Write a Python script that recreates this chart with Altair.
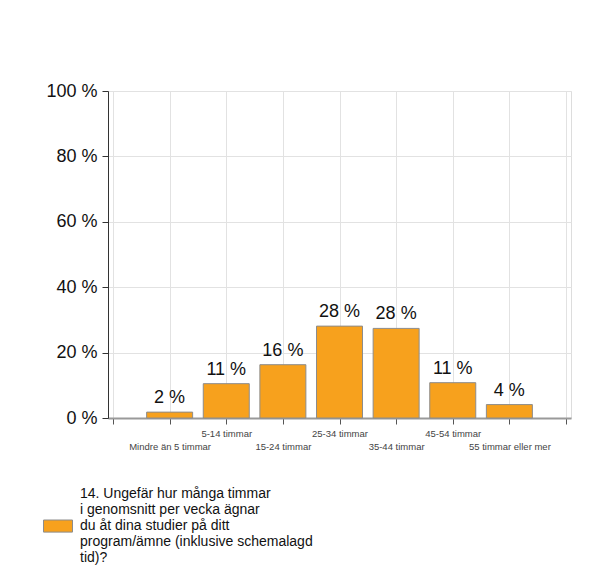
import json
import altair as alt
import pandas as pd

categories = [
    "Mindre än 5 timmar",
    "5-14 timmar",
    "15-24 timmar",
    "25-34 timmar",
    "35-44 timmar",
    "45-54 timmar",
    "55 timmar eller mer",
]
values = [1.8, 10.5, 16.3, 28.1, 27.4, 10.8, 4.1]
value_labels = ["2 %", "11 %", "16 %", "28 %", "28 %", "11 %", "4 %"]
y_ticks = [0, 20, 40, 60, 80, 100]
question_lines = [
    "14. Ungefär hur många timmar",
    "i genomsnitt per vecka ägnar",
    "du åt dina studier på ditt",
    "program/ämne (inklusive schemalagd",
    "tid)?",
]
question = "|".join(question_lines)

df = pd.DataFrame({
    "pos": list(range(1, len(categories) + 1)),
    "kategori": categories,
    "andel": values,
    "etikett": value_labels,
    "serie": [question] * len(categories),
})

FONT = "Liberation Sans"
ORANGE = "#F7A11D"
arr = json.dumps(categories)
x_label_expr = (
    f"datum.value >= 1 && datum.value <= {len(categories)} ? "
    f"(datum.value % 2 == 1 ? ['', {arr}[datum.value - 1]] : [{arr}[datum.value - 1]]) : ''"
)

x_enc = alt.X(
    "pos:Q",
    scale=alt.Scale(domain=[0, len(categories) + 1], nice=False, zero=False),
    axis=alt.Axis(
        title=None,
        values=list(range(0, len(categories) + 2)),
        labelExpr=x_label_expr,
        labelOverlap=False,
        labelFlush=False,
        labelFont=FONT,
        labelFontSize=9.5,
        labelLineHeight=13,
        labelColor="#444444",
        labelPadding=4,
        tickSize=6,
        tickColor="#555555",
        domainColor="#999999",
        domainWidth=2,
        grid=True,
        gridColor="#e2e2e2",
    ),
)

y_enc = alt.Y(
    "andel:Q",
    scale=alt.Scale(domain=[0, 100], nice=False),
    axis=alt.Axis(
        title=None,
        values=y_ticks,
        labelExpr="datum.value + ' %'",
        labelFont=FONT,
        labelFontSize=18,
        labelColor="#111111",
        labelPadding=5,
        tickSize=6,
        tickColor="#333333",
        domainColor="#333333",
        grid=True,
        gridColor="#e2e2e2",
    ),
)

# symbol path shifted down so it sits beside the middle line of the label
bars = alt.Chart(df).mark_bar(size=46, stroke="#8c8c8c", strokeWidth=1).encode(
    x=x_enc,
    y=y_enc,
    color=alt.Color(
        "serie:N",
        scale=alt.Scale(range=[ORANGE]),
        legend=alt.Legend(
            title=None,
            orient="none",
            legendX=-63,
            legendY=390,
            padding=0,
            symbolType="M-1.2,2.15H1.2V3.15H-1.2Z",
            symbolSize=585,
            symbolStrokeColor="#8c8c8c",
            symbolStrokeWidth=1,
            symbolOpacity=1,
            labelExpr="split(datum.label, '|')",
            labelFont=FONT,
            labelFontSize=14,
            labelColor="#111111",
            labelLimit=400,
            labelOffset=9,
        ),
    ),
)

labels = alt.Chart(df).mark_text(
    baseline="bottom", dy=-5, font=FONT, fontSize=18, color="#111111"
).encode(x="pos:Q", y="andel:Q", text="etikett:N")

chart = (
    alt.layer(bars, labels)
    .properties(
        width=463,
        height=327,
        autosize=alt.AutoSizeParams(type="none"),
        padding={"left": 100, "top": 83, "right": 16, "bottom": 162},
    )
    .configure_view(stroke=None)
    .configure(background="white")
)

chart.save("out.html", embed_options={"renderer": "svg", "actions": False})
